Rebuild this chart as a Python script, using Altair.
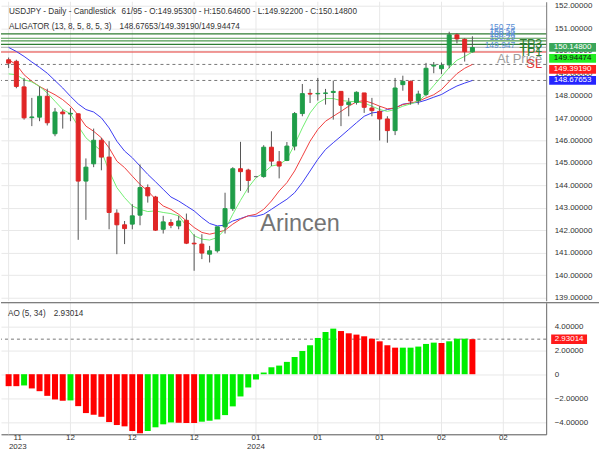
import altair as alt
import pandas as pd

# ---------------- data ----------------
opens = [149.60, 149.53, 148.39, 147.02, 147.04, 147.97, 146.30, 147.27, 147.18, 147.19,
         144.19, 144.96, 146.01, 145.26, 142.76, 142.24, 142.27, 142.67, 143.90, 143.48,
         142.04, 142.34, 142.19, 142.44, 141.42, 141.38, 140.93, 141.08, 142.15, 142.96,
         144.74, 144.68, 144.39, 144.39, 145.70, 145.05, 145.11, 145.75, 147.20, 148.10,
         148.08, 148.10, 148.14, 148.19, 147.60, 147.70, 148.12, 147.45, 147.30, 146.96,
         146.44, 148.49, 148.64, 147.78, 148.05, 149.32, 149.20, 149.37, 150.71, 150.51,
         149.953]
highs = [149.70, 149.60, 148.79, 147.90, 148.41, 148.31, 147.45, 147.38, 147.45, 147.20,
         145.20, 146.53, 146.12, 145.97, 142.93, 142.41, 143.16, 144.93, 144.04, 143.53,
         142.64, 142.49, 142.64, 142.74, 141.82, 141.82, 141.30, 142.15, 143.67, 144.81,
         145.94, 144.74, 144.42, 145.79, 146.41, 145.53, 145.93, 147.27, 148.52, 148.30,
         148.79, 148.30, 148.67, 148.20, 147.90, 148.19, 148.12, 147.90, 147.53, 147.08,
         148.79, 148.89, 148.67, 148.22, 149.46, 149.50, 149.48, 150.85, 150.78, 150.56,
         150.646]
lows = [149.23, 148.33, 146.93, 146.64, 146.86, 146.67, 146.19, 146.53, 146.86, 141.57,
        142.46, 144.81, 144.67, 142.04, 140.93, 141.38, 142.04, 142.22, 143.23, 141.97,
        141.85, 142.09, 142.04, 141.38, 140.19, 140.71, 140.56, 141.00, 141.85, 142.86,
        143.75, 143.67, 144.36, 144.34, 144.86, 144.31, 145.08, 145.56, 147.08, 147.67,
        147.78, 147.60, 146.93, 146.64, 147.08, 147.60, 147.23, 147.08, 146.00, 145.90,
        146.24, 148.22, 147.60, 147.60, 147.97, 149.00, 148.96, 149.22, 150.33, 149.52,
        149.922]
closes = [149.45, 148.41, 147.01, 147.05, 147.97, 146.79, 147.27, 147.19, 147.21, 144.19,
          144.81, 146.01, 145.26, 142.79, 142.24, 142.07, 142.64, 143.90, 143.53, 142.00,
          142.37, 142.22, 142.41, 141.42, 141.39, 140.98, 141.08, 142.15, 142.96, 144.74,
          144.61, 144.22, 144.39, 145.70, 145.08, 144.86, 145.75, 147.20, 148.09, 148.07,
          148.10, 148.12, 148.19, 147.57, 147.70, 148.15, 147.48, 147.33, 146.96, 146.44,
          148.34, 148.64, 147.76, 148.07, 149.22, 149.36, 149.35, 150.71, 150.53, 149.96,
          150.148]

jaw = [150.15, 149.97, 149.75, 149.50, 149.26, 149.00, 148.67, 148.34, 147.97, 147.63,
       147.38, 147.27, 147.01, 146.56, 145.97, 145.53, 145.23, 144.86, 144.49, 144.16,
       143.82, 143.48, 143.30, 143.08, 142.86, 142.56, 142.30, 142.19, 142.22, 142.41,
       142.52, 142.64, 142.62, 142.71, 142.93, 143.16, 143.38, 143.67, 144.12, 144.64,
       145.16, 145.60, 145.90, 146.19, 146.49, 146.79, 147.08, 147.23, 147.27, 147.38,
       147.45, 147.62, 147.67, 147.70, 147.80, 147.93, 148.05, 148.25, 148.43, 148.56,
       148.67653]
teeth = [149.60, 149.38, 148.93, 148.64, 148.41, 148.22, 148.04, 147.82, 147.53, 147.13,
         146.64, 146.41, 146.12, 145.67, 145.08, 144.79, 144.41, 144.04, 143.75, 143.38,
         143.08, 142.93, 142.71, 142.41, 142.12, 141.90, 141.82, 141.90, 142.00, 142.27,
         142.49, 142.64, 142.71, 142.93, 143.30, 143.75, 144.12, 144.64, 145.30, 145.97,
         146.49, 146.86, 147.08, 147.30, 147.53, 147.72, 147.78, 147.67, 147.53, 147.41,
         147.45, 147.60, 147.67, 147.75, 147.90, 148.04, 148.27, 148.63, 148.98, 149.22,
         149.39190]
lips = [148.97, 148.93, 148.71, 148.61, 148.41, 148.12, 147.75, 147.38, 147.19, 146.64,
        146.12, 145.82, 145.53, 144.64, 143.90, 143.45, 143.08, 142.93, 142.83, 142.86,
        142.79, 142.74, 142.64, 142.19, 141.75, 141.60, 141.56, 141.67, 142.04, 142.71,
        143.33, 143.90, 144.34, 144.56, 144.86, 144.93, 145.16, 145.82, 146.56, 147.23,
        147.67, 147.87, 147.87, 147.78, 147.75, 147.72, 147.67, 147.53, 147.38, 147.30,
        147.38, 147.53, 147.63, 147.75, 148.05, 148.45, 148.85, 149.25, 149.58, 149.75,
        149.94474]

ao_values = [-1.00, -1.00, -0.94, -1.19, -1.42, -1.81, -2.11, -2.22, -2.19, -2.67,
             -3.25, -3.39, -3.56, -4.00, -4.25, -4.36, -4.75, -4.94, -4.75, -4.44,
             -4.19, -4.03, -4.06, -4.08, -4.08, -3.97, -3.89, -3.78, -3.42, -2.69,
             -1.86, -1.11, -0.44, 0.14, 0.58, 0.72, 1.03, 1.44, 1.94, 2.42,
             3.03, 3.53, 3.81, 3.61, 3.42, 3.31, 3.17, 2.97, 2.75, 2.42,
             2.22, 2.22, 2.22, 2.31, 2.53, 2.64, 2.61, 2.75, 2.97, 2.97,
             2.93014]
ao_dir = list("rrgrrrrrgr" "rrrrrrrrgg" "ggrrrggggg" "gggggggggg" "gggrrrrrrr" "rgggggrgggr")

tick_idx = [0, 8, 16, 24, 32, 40, 48, 56, 64]
tick_month = ["11", "12", "12", "12", "01", "01", "01", "02", "02"]
tick_year = ["2023", "", "", "", "2024", "", "", "", ""]

level_values = [150.75, 150.56, 150.44, 150.29, 150.148, 149.947]
level_colors = ["#2f7d32", "#4f9a4f", "#4f9a4f", "#2f7d32", "#bdbdbd", "#e53935"]
level_tags = ["150.75", "150.56", "150.44", "150.29", "", "149.947"]

trade_tags = ["TP3", "TP2", "TP1", "At Price", "SL"]
trade_colors = ["#2f7d32", "#2f7d32", "#2f7d32", "#9e9e9e", "#e53935"]

last_vals = [150.14800, 149.94474, 149.39190, 148.67653]
last_fill = ["#3aa65a", "#22ee22", "#ff2020", "#2525ff"]
last_text = ["white", "#111111", "white", "white"]

ao_last = 2.93014

title_main_a = "USDJPY - Daily - Candlestick"
title_main_b = "61/95 - O:149.95300 - H:150.64600 - L:149.92200 - C:150.14800"
title_alli_a = "ALIGATOR (13, 8, 5, 8, 5, 3)"
title_alli_b = "148.67653/149.39190/149.94474"
title_ao_a = "AO (5, 34)"
title_ao_b = "2.93014"

# ---------------- styling / scales ----------------
FONT = "Liberation Sans"
GRID = "#e8e8e8"
W = 547
H_MAIN = 300
H_AO = 132

xscale = alt.Scale(domain=[-0.342, 68.9], nice=False, zero=False)
yscale = alt.Scale(domain=[138.853, 152.187], nice=False, zero=False)
aoscale = alt.Scale(domain=[-5.025, 5.975], nice=False, zero=False)

yax = alt.Axis(orient="right", values=list(range(139, 153)), format=".5f", title=None,
               grid=True, gridColor=GRID, domain=True, domainColor="#777", ticks=False,
               labelPadding=8, labelFontSize=8, labelColor="#333", labelFont=FONT,
               labelFlush=False, labelOverlap=False)
aoax = alt.Axis(orient="right", values=[-4, -2, 0, 2, 4], title=None,
                labelExpr="datum.value == 0 ? '0' : format(datum.value, '.5f')",
                grid=True, gridColor=GRID, domain=True, domainColor="#666", ticks=False,
                labelPadding=8, labelFontSize=8, labelColor="#333", labelFont=FONT,
                labelFlush=False, labelOverlap=False)
xax_ao = alt.Axis(orient="bottom", labels=False, ticks=False, grid=False, title=None,
                  domain=True, domainColor="#555")

# ---------------- frames ----------------
N = len(opens)
cdf = pd.DataFrame({"i": list(range(N)), "o": opens, "h": highs, "l": lows, "c": closes})
cdf["col"] = ["#1f9d48" if c > o else ("#e02626" if c < o else "#777777")
              for o, c in zip(opens, closes)]

alli = pd.concat([
    pd.DataFrame({"i": list(range(N)), "v": jaw, "s": "jaw"}),
    pd.DataFrame({"i": list(range(N)), "v": teeth, "s": "teeth"}),
    pd.DataFrame({"i": list(range(N)), "v": lips, "s": "lips"}),
])

tdf = pd.DataFrame({"i": tick_idx, "m": tick_month, "yr": tick_year})
tdf["lx"] = [t + 1.18 if t == 0 else t for t in tick_idx]

ldf = pd.DataFrame({"lev": level_values, "col": level_colors, "tag": level_tags})

# dodge the last-value boxes so they do not overlap (11 px apart)
ppu = H_MAIN / (152.187 - 138.853)
gap = 11 / ppu
disp = []
for v in last_vals:
    d = v if not disp else min(v, disp[-1] - gap)
    disp.append(d)
half = 4.4 / ppu
bdf = pd.DataFrame({"t": [f"{v:.5f}" for v in last_vals], "d": disp,
                    "top": [d + half for d in disp], "bot": [d - half for d in disp],
                    "fill": last_fill, "tc": last_text})

trade_py = [42.5, 46.5, 50.5, 57.5, 62.0]
trade_fs = [12.5, 12.5, 12.5, 13, 13]
trdf = pd.DataFrame({"t": trade_tags, "col": trade_colors, "py": trade_py, "fs": trade_fs})

aodf = pd.DataFrame({"i": list(range(N)), "ao": ao_values, "zero": 0.0,
                     "col": ["#00ee00" if d == "g" else "#ff0000" for d in ao_dir]})

one = pd.DataFrame({"a": [1]})

X = lambda f: alt.X(f, scale=xscale, axis=None)
Y = lambda f: alt.Y(f, scale=yscale, axis=yax)


def label(txt, x, y, size=8.2):
    return alt.Chart(one).mark_text(align="left", baseline="middle", fontSize=size,
                                    color="#333", font=FONT).encode(
        x=alt.value(x), y=alt.value(y), text=alt.value(txt))


# ---------------- main panel ----------------
vgrid = alt.Chart(tdf).mark_rule(color=GRID, strokeWidth=1).encode(x=X("i:Q"))
levels = alt.Chart(ldf).mark_rule(strokeWidth=1.2).encode(
    y=Y("lev:Q"), color=alt.Color("col:N", scale=None))
dashed = alt.Chart(pd.DataFrame({"v": [teeth[-1], jaw[-1]]})).mark_rule(
    color="#777", strokeDash=[3, 3], strokeWidth=1).encode(y=Y("v:Q"))
lines = alt.Chart(alli).mark_line(strokeWidth=1).encode(
    x=X("i:Q"), y=Y("v:Q"),
    color=alt.Color("s:N", scale=alt.Scale(domain=["jaw", "teeth", "lips"],
                                          range=["#3b3bf2", "#f04040", "#72ee72"]),
                    legend=None))
wicks = alt.Chart(cdf).mark_rule(color="#555", strokeWidth=1).encode(
    x=X("i:Q"), y=Y("l:Q"), y2="h:Q")
bodies = alt.Chart(cdf).mark_bar(size=4, strokeWidth=1).encode(
    x=X("i:Q"), y=Y("o:Q"), y2="c:Q",
    color=alt.Color("col:N", scale=None), stroke=alt.Stroke("col:N", scale=None))

t1a = label(title_main_a, 8, 10.5)
t1b = label(title_main_b, 121, 10.5)
t2a = label(title_alli_a, 8, 25)
t2b = label(title_alli_b, 119, 25)
wm = alt.Chart(one).mark_text(align="center", baseline="middle", fontSize=23.5,
                              color="#666", opacity=0.9, font=FONT).encode(
    x=alt.value(300), y=alt.value(223), text=alt.value("Arincen"))

blue = alt.Chart(ldf[ldf["tag"] != ""]).mark_text(
    align="right", baseline="bottom", dy=-2, fontSize=8.5, color="#5b8fd6", font=FONT).encode(
    x=alt.value(516), y=Y("lev:Q"), text="tag:N")
trade = alt.Chart(trdf).mark_text(align="right", baseline="middle", font=FONT).encode(
    x=alt.value(543), y=alt.Y("py:Q", scale=None), text="t:N",
    color=alt.Color("col:N", scale=None), size=alt.Size("fs:Q", scale=None))

boxes = alt.Chart(bdf).mark_rect().encode(
    x=alt.value(550), x2=alt.value(597), y=Y("top:Q"), y2="bot:Q",
    color=alt.Color("fill:N", scale=None))
boxtxt = alt.Chart(bdf).mark_text(align="center", baseline="middle", fontSize=8,
                                  font=FONT).encode(
    x=alt.value(573.5), y=Y("d:Q"), text="t:N", color=alt.Color("tc:N", scale=None))

main = alt.layer(vgrid, levels, dashed, lines, wicks, bodies, t1a, t1b, t2a, t2b, wm,
                 blue, trade, boxes, boxtxt).properties(width=W, height=H_MAIN)

# ---------------- AO panel ----------------
XA = lambda f: alt.X(f, scale=xscale, axis=xax_ao)
YA = lambda f: alt.Y(f, scale=aoscale, axis=aoax)

ao_vgrid = alt.Chart(tdf).mark_rule(color=GRID, strokeWidth=1).encode(x=XA("i:Q"))
ao_dash = alt.Chart(pd.DataFrame({"v": [ao_last]})).mark_rule(
    color="#777", strokeDash=[3, 3], strokeWidth=1).encode(y=YA("v:Q"))
ao_bars = alt.Chart(aodf).mark_bar(size=6).encode(
    x=XA("i:Q"), y=YA("ao:Q"), y2="zero:Q", color=alt.Color("col:N", scale=None))
ao_top = alt.Chart(one).mark_rule(color="#555", strokeWidth=1).encode(
    x=alt.value(0), x2=alt.value(600), y=alt.value(0))
ao_ta = label(title_ao_a, 7, 11.5)
ao_tb = label(title_ao_b, 53, 11.5)
ao_box = alt.Chart(pd.DataFrame({"v": [ao_last], "t": [f"{ao_last:.5f}"],
                                 "top": [ao_last + 0.4], "bot": [ao_last - 0.4]}))
ao_boxr = ao_box.mark_rect(color="#ff1a1a").encode(
    x=alt.value(552), x2=alt.value(588), y=YA("top:Q"), y2="bot:Q")
ao_boxt = ao_box.mark_text(align="center", baseline="middle", fontSize=8, color="white",
                           font=FONT).encode(x=alt.value(570), y=YA("v:Q"), text="t:N")
xm = alt.Chart(tdf).mark_text(align="center", baseline="middle", fontSize=8, color="#333",
                              font=FONT).encode(x=XA("lx:Q"), y=alt.value(136), text="m:N")
xy = alt.Chart(tdf[tdf["yr"] != ""]).mark_text(align="center", baseline="middle",
                                                fontSize=8, color="#333", font=FONT).encode(
    x=XA("lx:Q"), y=alt.value(144.5), text="yr:N")

aop = alt.layer(ao_vgrid, ao_dash, ao_bars, ao_top, ao_ta, ao_tb, ao_boxr, ao_boxt, xm, xy
                ).properties(width=W, height=H_AO)

chart = alt.vconcat(main, aop, spacing=0).properties(padding=0, background="white") \
    .configure(font=FONT).configure_view(strokeWidth=0)

chart.save("out.html", embed_options={"renderer": "svg", "actions": False})
